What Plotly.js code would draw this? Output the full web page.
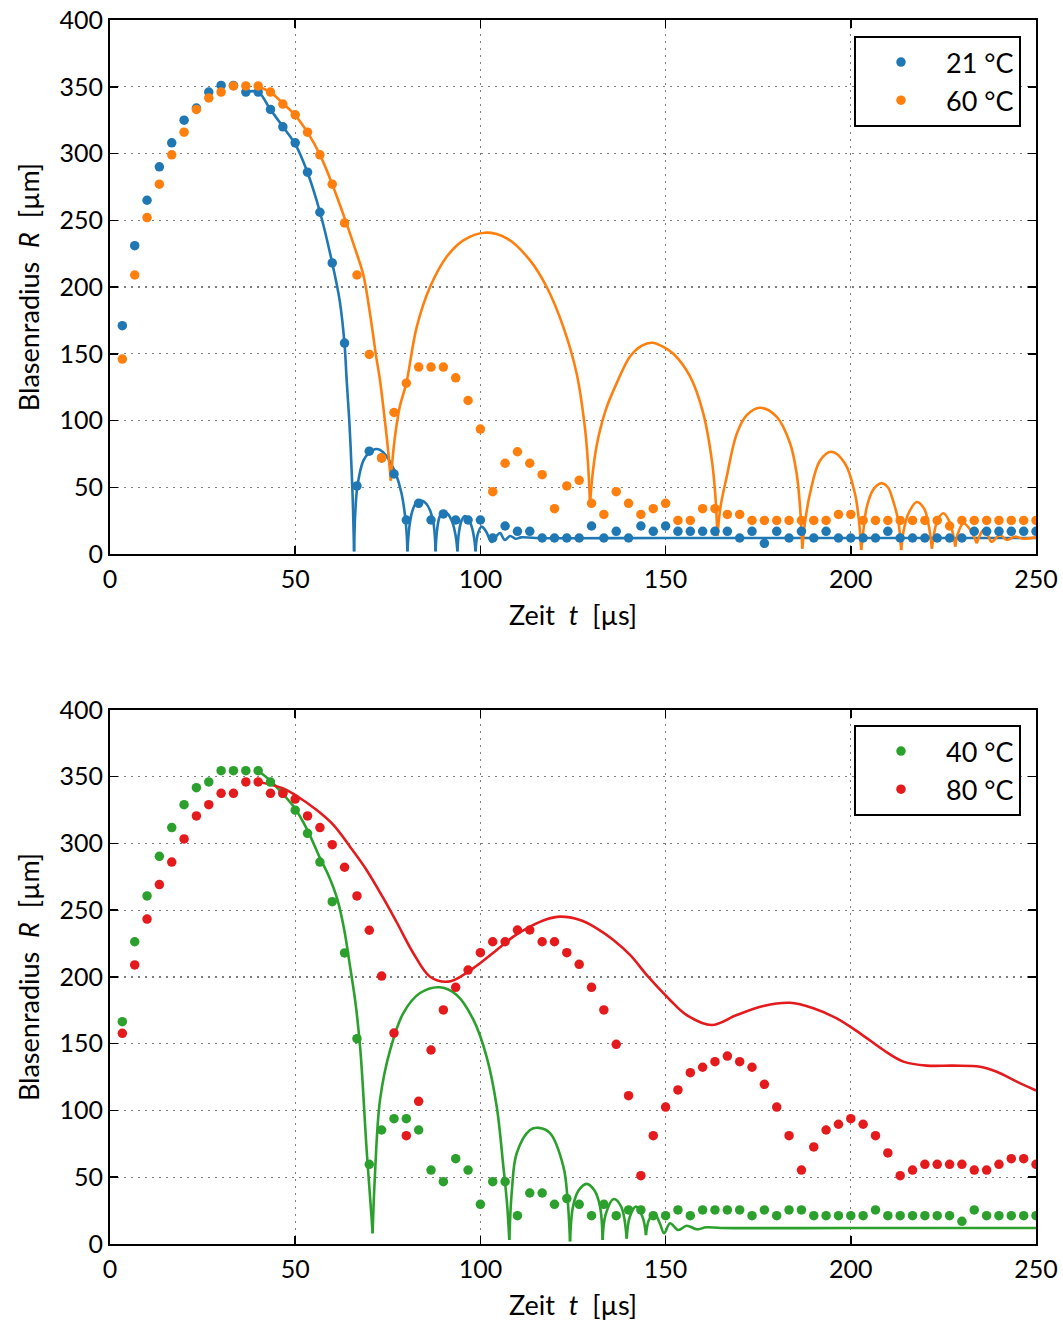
<!DOCTYPE html>
<html><head><meta charset="utf-8">
<script src="https://cdn.plot.ly/plotly-3.0.1.min.js"></script>
<style>html,body{margin:0;padding:0;background:#fff}#chart{width:1063px;height:1324px}</style>
</head><body><div id="chart"></div>
<script>
// Measurement times [µs]
const tMeas = [3.33,6.67,10,13.33,16.67,20,23.33,26.67,30,33.33,36.67,40,43.33,46.67,50,53.33,56.67,60,63.33,66.67,70,73.33,76.67,80,83.33,86.67,90,93.33,96.67,100,103.33,106.67,110,113.33,116.67,120,123.33,126.67,130,133.33,136.67,140,143.33,146.67,150,153.33,156.67,160,163.33,166.67,170,173.33,176.67,180,183.33,186.67,190,193.33,196.67,200,203.33,206.67,210,213.33,216.67,220,223.33,226.67,230,233.33,236.67,240,243.33,246.67,250];

// Measured radii [µm]
const r21 = [171,231,265,290,308,325,334,346,351,351,346,346,333,320,308,286,256,218,158,51,77,72,60,25.5,38,25.5,30,25.5,25.5,25.5,12,21,17,17,12,12,12,12,21,12,17,12,21,17,21,17,17,17,17,17,12,17,8,17,12,17,12,17,12,12,12,12,17,12,12,12,12,12,12,17,17,17,17,17,17];
const r60 = [146,209,252,277,299,316,333,341.6,346,350.6,350.6,350.6,346,337,329,316,299,277,248,209,149.5,72,106,128,140,140,140,132,115,93.6,46.7,68,76.6,68,59.4,34,51,55.2,38,29.7,46.7,38,29.7,34,38,25.2,25.2,34,34,29.7,29.7,25.2,25.2,25.2,25.2,25.2,25.2,25.2,29.7,29.7,25.2,25.2,25.2,25.2,25.2,25.2,25.2,21,25.2,25.2,25.2,25.2,25.2,25.2,25.2];
const r40 = [166.5,226.4,260.7,290.4,311.9,329.1,341.8,346.1,354.5,354.5,354.5,354.5,346,337.6,324.9,307.6,286.1,256.4,218,153.8,59.7,85.4,93.9,93.9,85.4,55.4,46.7,63.9,55.4,29.7,46.7,46.7,21.2,38.2,38.2,29.7,34,29.7,21.2,29.7,21.2,25.5,25.5,21.2,21.2,25.5,21.2,25.5,25.5,25.5,25.5,21.2,25.5,21.2,25.5,25.5,21.2,21.2,21.2,21.2,21.2,25.5,21.2,21.2,21.2,21.2,21.2,21.2,17,25.5,21.2,21.2,21.2,21.2,21.2];
const r80 = [157.8,209,243.4,269.2,286.1,303.4,320.6,329.1,337.6,337.6,346.1,346.1,337.6,337.6,333.3,320.6,311.9,299.1,282.2,260.7,235,200.7,158,81.1,106.9,145.3,175.3,192.3,205.2,218.2,226.4,226.4,235.2,235.2,226.4,226.4,218.2,209.5,192.3,175.3,149.6,111.1,51.2,81.1,102.6,115.4,128.3,132.4,136.6,140.8,136.6,132.4,119.6,102.6,81.1,55.4,72.7,85.4,89.7,93.9,89.7,81.1,68.2,51.2,55.4,59.7,59.7,59.7,59.7,55.4,55.4,59.7,63.9,63.9,59.7];

// Model curves (null separates collapse arcs)
const tFit21 = [36.7,40,43.3,46.7,50,53.3,56.7,60,62,63.3,63.9,64.6,65.2,65.6,65.9,null,
  65.9,66.2,66.8,68.4,70,71.5,72.9,74.5,76,77.2,78.7,79.6,80.1,80.3,null,
  80.3,80.8,81.6,82.7,84,85.3,86.5,87.4,87.9,null,
  87.9,88.3,89,90,91.2,92.4,93.3,93.8,null,
  93.8,94.2,94.9,95.8,96.8,97.8,98.4,98.7,null,
  98.7,99.2,100.3,101.5,103,104.2,105.3,106.6,108,109.5,111,115,150,200,250];
const rFit21 = [346,346,333,320,307,286,256,218,190,158,130,100,65,35,2,null,
  2,30,51,70,76,78.5,78,74,67,60,45.5,30,15,2,null,
  2,20,32,38.5,40,38,32,22,2,null,
  2,18,28,31.7,30,24,14,2,null,
  2,16,25,28.5,26,19,10,2,null,
  2,14,20.5,17,9,13,15.7,10.5,13.5,11.5,12.5,12,12,12,12];

const tFit60 = [40,43.3,46.7,50,53.3,56.7,60,63.8,66,68.4,70.2,71.8,72.9,74,75,75.8,null,
  75.8,76.8,78.2,80,82.8,86.4,90.9,95.4,101.2,107.1,113.4,117.9,122.4,126,128.2,129,129.6,null,
  129.6,130.3,131.3,132.5,134.1,136.8,140.4,143.5,146.4,149.5,152.1,156.6,160.2,162.5,163.4,164,null,
  164,164.8,166.5,169.2,171.9,175.5,180,183.6,185.4,186.3,186.9,null,
  186.9,187.7,189,191.7,194.8,198.4,201.1,202.2,202.8,null,
  202.8,203.5,204.3,206,208.2,210,211.4,212.8,213.6,null,
  213.6,214.3,215.5,217.8,219.8,221,221.9,null,
  221.9,222.6,223.5,225,226.5,227.6,228.2,null,
  228.2,229,230.4,232.3,234,null,
  234,235,235.8,237,238,240.3,242.1,244.3,246.5,250];
const rFit60 = [350,346,337.5,328.6,316,299,277,248,230,209,180,149,130,105,80,55,null,
  55,85,110,128,170,200,222.7,235,240.7,236.5,220,200,170,135,95,70,38,null,
  38,60,80,95,110,128,148,156,158.3,155,150,133,105,70,45,13.5,null,
  13.5,35,58,90,104,109.6,102.8,83,60,35,4,null,
  4,25,45.5,70,76.6,68,45.5,25,3,null,
  3,20,35,48,53,50,40,25,3,null,
  3,18,30,39,34,22,4,null,
  4,17,26,30.5,25,15,5.5,null,
  5.5,16,23,18,8,null,
  8,15,18,14,9.2,14.2,10.5,13,11.5,12.5];

const tFit40 = [40,43.3,46.7,50,53.3,56.7,59,61.4,63.2,64.8,66.3,67.6,69.3,70.6,70.9,null,
  70.9,71.5,72.9,75.6,79.2,83.7,89.1,93.6,98.1,101.7,104.4,106.2,107.2,107.8,null,
  107.8,108.5,109.8,113.4,115.8,118.8,122.4,123.5,124.2,null,
  124.2,125,126.5,128.7,130.8,132.3,133,null,
  133,133.8,136,138,139.5,null,
  139.5,140.3,142,143.8,144.7,null,
  144.7,145.5,147,148.5,149.6,151.2,153.4,155.7,158.5,161,165,200,250];
const rFit40 = [354.5,347,337,326,310,289,276,258,236,208,180,145,70,20.5,8,null,
  8,50,108,145,173,188,192.3,186.5,168,140,103,58,30,3,null,
  3,40,68,85.4,87,83,58,35,2,null,
  2,28,40,45,40,28,3,null,
  3,22,33.7,28,4,null,
  4,20,28,20,6.7,null,
  6.7,18,23,15,8,15.5,10.5,13.7,11,12.5,12,12,12];

const tFit80 = [40,46.6,50,55.8,60.3,64.8,69.3,73.8,77.4,81.9,86.4,91.3,95.4,99.9,104.4,108.9,113.4,117.9,121.5,126.9,131.4,135.9,140.4,145.3,151.2,155.7,162.5,169.2,176.4,183.6,189.9,196.2,202.5,208.8,214.2,220.5,227.7,234.9,239.4,244.8,250];
const rFit80 = [346.3,341.4,336.3,325,313.9,297.6,280,259,241,217.8,200.2,196.5,201.5,210.3,220.2,230.2,237.7,243.2,245.2,242.7,236.5,227.7,216.5,200.2,182.8,171.5,164,171.5,178.3,180.7,176.6,169,157.8,145.3,136.6,133.6,133.6,132.8,129,121.6,115];

const labels = ['21 °C','60 °C','40 °C','80 °C'];
const colors = ['#1f77b4','#ff7f0e','#2ca02c','#e41a1c'];

const FONT = 'Lato, "Open Sans", sans-serif';
function lineTrace(x,y,c,xa,ya){
  return {x:x,y:y,type:'scatter',mode:'lines',xaxis:xa,yaxis:ya,showlegend:false,hoverinfo:'skip',
    connectgaps:false,line:{color:c,width:2.6,shape:'spline',smoothing:1}};
}
function ptTrace(x,y,c,name,xa,ya,lg){
  return {x:x,y:y,type:'scatter',mode:'markers',xaxis:xa,yaxis:ya,name:name,legend:lg,
    marker:{color:c,size:9.5,line:{width:0}}};
}
const data = [
  lineTrace(tFit21,rFit21,colors[0],'x','y'),
  lineTrace(tFit60,rFit60,colors[1],'x','y'),
  ptTrace(tMeas,r21,colors[0],labels[0],'x','y','legend'),
  ptTrace(tMeas,r60,colors[1],labels[1],'x','y','legend'),
  lineTrace(tFit40,rFit40,colors[2],'x2','y2'),
  lineTrace(tFit80,rFit80,colors[3],'x2','y2'),
  ptTrace(tMeas,r40,colors[2],labels[2],'x2','y2','legend2'),
  ptTrace(tMeas,r80,colors[3],labels[3],'x2','y2','legend2')
];

function xax(anchor){
  return {anchor:anchor,domain:[0,1],range:[0,250],dtick:50,tick0:0,ticks:'inside',ticklen:8,tickwidth:1.5,tickcolor:'#000',
    showline:true,linecolor:'#000',linewidth:2,mirror:'ticks',zeroline:false,
    showgrid:true,gridcolor:'#808080',gridwidth:1.2,griddash:'2px,5px',
    tickfont:{size:25,color:'#000'},ticklabelstandoff:2,
    title:{text:'Zeit  <i>t</i>  [µs]',font:{size:27,color:'#000'},standoff:14}};
}
function yax(anchor,dom){
  return {anchor:anchor,domain:dom,range:[0,400],dtick:50,tick0:0,ticks:'inside',ticklen:8,tickwidth:1.5,tickcolor:'#000',
    showline:true,linecolor:'#000',linewidth:2,mirror:'ticks',zeroline:false,
    showgrid:true,gridcolor:'#808080',gridwidth:1.2,griddash:'2px,5px',
    tickfont:{size:25,color:'#000'},
    title:{text:'Blasenradius  <i>R</i>  [µm]',font:{size:27,color:'#000'},standoff:12}};
}
const legStyle = {xanchor:'right',yanchor:'top',bgcolor:'#fff',bordercolor:'#000',borderwidth:2,
  font:{size:27,color:'#000'},itemwidth:80};
const layout = {
  width:1063,height:1324,
  margin:{l:110,r:27,t:20,b:80},
  paper_bgcolor:'#fff',plot_bgcolor:'#fff',
  font:{family:FONT,color:'#000'},
  xaxis:xax('y'),
  yaxis:yax('x',[0.5637,1]),
  xaxis2:xax('y2'),
  yaxis2:yax('x2',[0,0.4363]),
  legend:Object.assign({x:0.9838,y:0.9869},legStyle),
  legend2:Object.assign({x:0.9838,y:0.424},legStyle)
};
Plotly.newPlot('chart',data,layout,{displayModeBar:false,staticPlot:true});
</script>
</body></html>
